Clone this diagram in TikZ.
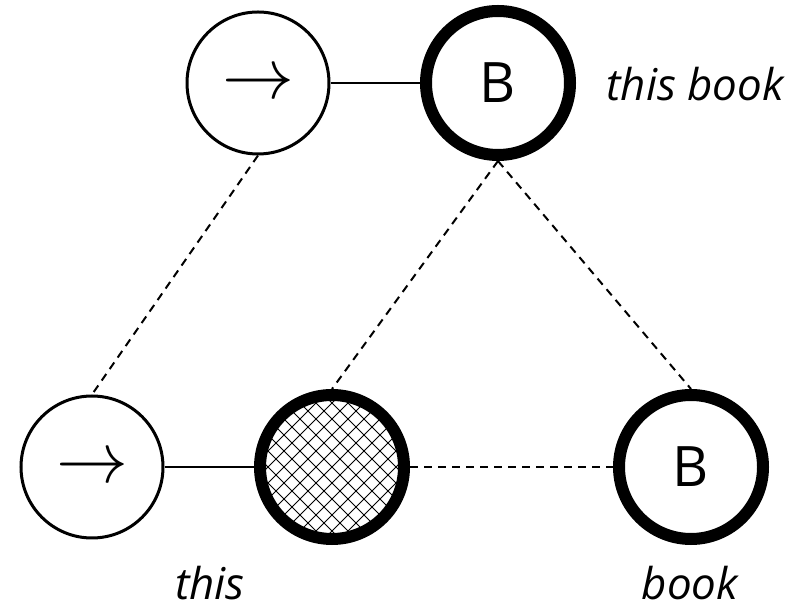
\documentclass[tikz,border=0pt]{standalone}
\usepackage{fontspec}
\setmainfont{Open Sans}
\usetikzlibrary{positioning}
\tikzset{
  cell/.style={draw,circle,line width=1.5bp,minimum size=71bp,inner sep=0pt,font=\fontsize{28}{32}\selectfont},
  heavy/.style={cell,line width=6bp,minimum size=72bp},
  hatched/.style={path picture={
    \foreach \k in {-10,...,10}{
      \draw[line width=0.5bp] ([shift={(\k*8bp-60bp,-60bp)}]path picture bounding box.center) -- ++(120bp,120bp);
      \draw[line width=0.5bp] ([shift={(\k*8bp-60bp,60bp)}]path picture bounding box.center) -- ++(120bp,-120bp);
    }}},
  link/.style={line width=1.3bp},
  weak/.style={line width=1bp,dash pattern=on 4bp off 3bp},
  word/.style={font=\fontsize{22}{26}\selectfont\itshape}
}
\newcommand{\pointer}{\raisebox{-8bp}[0pt][0pt]{\scalebox{1.45}{$\rightarrow$}}}
\begin{document}
\begin{tikzpicture}
  \useasboundingbox (0bp,0bp) rectangle (402.5bp,305bp);
  \node (Arr1) at (129bp,263.5bp) [cell] {\pointer};
  \node (B1) at (249bp,263.5bp) [heavy] {B};
  \node (Arr2) at (46bp,71.5bp) [cell] {\pointer};
  \node (Hole) at (166bp,71.5bp) [heavy,hatched] {};
  \node (B2) at (345.5bp,71.5bp) [heavy] {B};
  \node (thisbook) at (347.5bp,263bp) [word] {this book};
  \node (this) at (105bp,13.5bp) [word] {this};
  \node (book) at (345bp,13.5bp) [word] {book};
  \draw [link] (Arr1) -- (B1);
  \draw [link] (Arr2) -- (Hole);
  \draw [weak] (Arr1.south) -- (Arr2.north);
  \draw [weak] (B1.south) -- (Hole.north);
  \draw [weak] (B1.south) -- (B2.north);
  \draw [weak] (Hole) -- (B2);
\end{tikzpicture}
\end{document}
